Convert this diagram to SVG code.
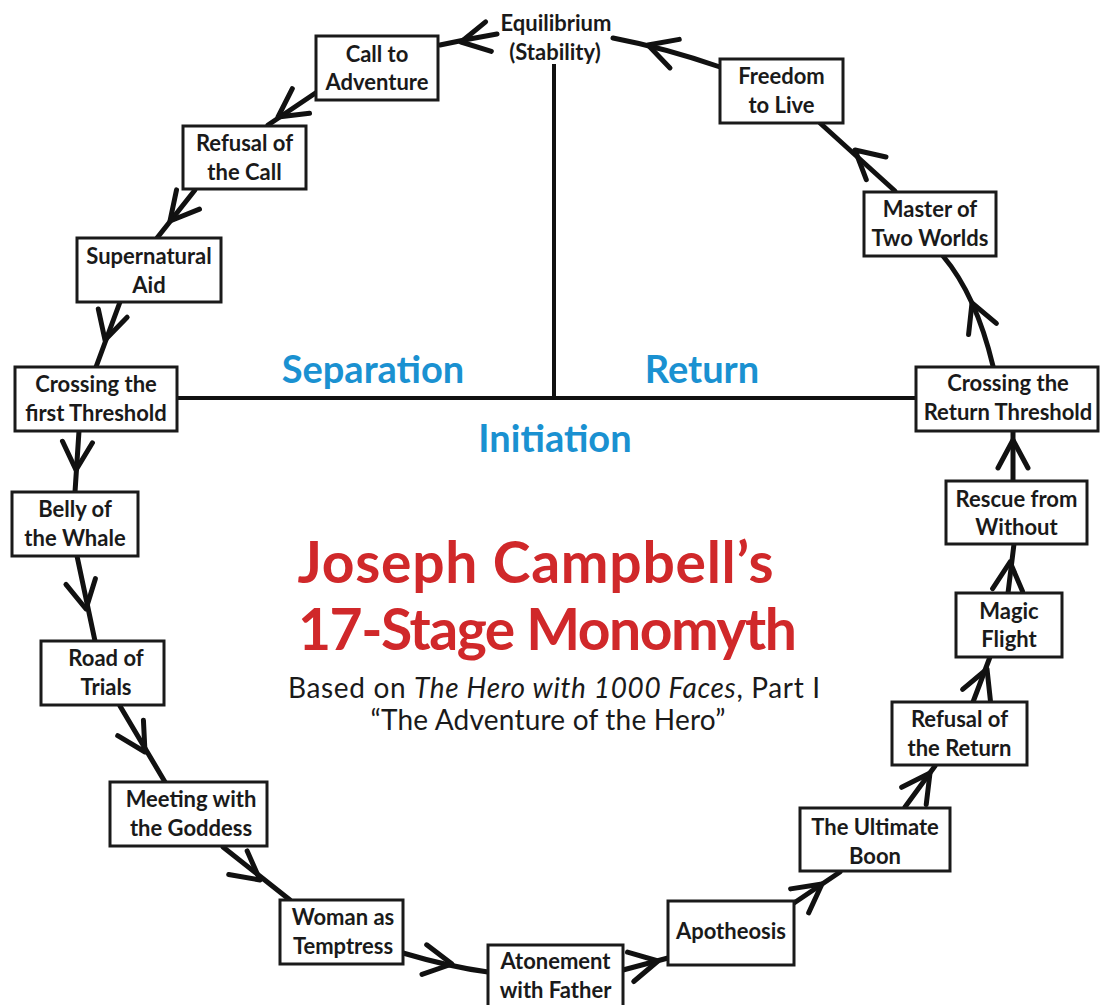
<svg xmlns="http://www.w3.org/2000/svg" xmlns:xlink="http://www.w3.org/1999/xlink" width="1100" height="1005" viewBox="0 0 1100 1005">
<style>
.box{fill:#fff;stroke:#1a1a1a;stroke-width:3}
.lbl{font-family:Lato,"Liberation Sans",sans-serif;font-weight:bold;font-size:22px;fill:#1a1a1a;text-anchor:middle}
.con{fill:none;stroke:#111;stroke-width:5;stroke-linecap:round}
.ah{fill:none;stroke:#111;stroke-width:5;stroke-linecap:round;stroke-linejoin:round}
.axis{stroke:#111;stroke-width:4;fill:none}
.phase{font-family:Lato,"Liberation Sans",sans-serif;font-weight:bold;font-size:38px;fill:#1a91d1;text-anchor:middle}
.title{font-family:Lato,"Liberation Sans",sans-serif;font-weight:bold;font-size:57px;fill:#d0282a;text-anchor:middle}
.sub{font-family:Lato,"Liberation Sans",sans-serif;font-size:28px;fill:#1a1a1a;text-anchor:middle}
</style>
<defs>
<path id="ah" d="M-28,-15 L0,0 L-28,15"/>
</defs>
<rect width="1100" height="1005" fill="#fff"/>

<g id="axes">
<line class="axis" x1="554" y1="64" x2="554" y2="398"/>
<line class="axis" x1="177" y1="398" x2="916" y2="398"/>
</g>

<g id="connectors">
<path class="con" d="M497,34 Q468,39 440,45"/>
<path class="con" d="M317,92 L268,125"/>
<path class="con" d="M195,190 L157,238"/>
<path class="con" d="M120,302 L96,367"/>
<path class="con" d="M79,431 L75,492"/>
<path class="con" d="M77,556 L95,641"/>
<path class="con" d="M120,706 L165,782"/>
<path class="con" d="M223,847 L290,900"/>
<path class="con" d="M403,953 Q450,967 488,972"/>
<path class="con" d="M623,970 L668,958"/>
<path class="con" d="M794,903 L840,872"/>
<path class="con" d="M905,807 L935,766"/>
<path class="con" d="M973,702 L990,657"/>
<path class="con" d="M1008,593 L1014,544"/>
<path class="con" d="M1013,481 L1013,431"/>
<path class="con" d="M993,366 Q976,295 943,256"/>
<path class="con" d="M895,191 L820,123"/>
<path class="con" d="M720,67 Q665,48 613,38"/>
<use href="#ah" class="ah" transform="translate(461,42) rotate(169)"/>
<use href="#ah" class="ah" transform="translate(278,117) rotate(145)"/>
<use href="#ah" class="ah" transform="translate(170,221) rotate(130)"/>
<use href="#ah" class="ah" transform="translate(105,340) rotate(106)"/>
<use href="#ah" class="ah" transform="translate(76,470) rotate(93)"/>
<use href="#ah" class="ah" transform="translate(86,609) rotate(79)"/>
<use href="#ah" class="ah" transform="translate(145,752) rotate(59)"/>
<use href="#ah" class="ah" transform="translate(260,880) rotate(38)"/>
<use href="#ah" class="ah" transform="translate(452,964) rotate(9)"/>
<use href="#ah" class="ah" transform="translate(658,961) rotate(-12)"/>
<use href="#ah" class="ah" transform="translate(822,884) rotate(-37)"/>
<use href="#ah" class="ah" transform="translate(930,773) rotate(-55)"/>
<use href="#ah" class="ah" transform="translate(987,669) rotate(-68)"/>
<use href="#ah" class="ah" transform="translate(1010,562) rotate(-85)"/>
<use href="#ah" class="ah" transform="translate(1013,440) rotate(-90)"/>
<use href="#ah" class="ah" transform="translate(972,303) rotate(-112)"/>
<use href="#ah" class="ah" transform="translate(855,150) rotate(-139)"/>
<use href="#ah" class="ah" transform="translate(648,45) rotate(-162)"/>
</g>

<g id="equilibrium">
<text class="lbl" x="556" y="31">Equilibrium</text>
<text class="lbl" x="555" y="60">(Stability)</text>
</g>

<g id="call-to-adventure">
<rect class="box" x="316" y="36" width="122" height="64"/>
<text class="lbl" x="377" y="62">Call to</text>
<text class="lbl" x="377" y="90">Adventure</text>
</g>

<g id="refusal-of-the-call">
<rect class="box" x="183" y="126" width="123" height="63"/>
<text class="lbl" x="244.5" y="151">Refusal of</text>
<text class="lbl" x="244.5" y="180">the Call</text>
</g>

<g id="supernatural-aid">
<rect class="box" x="77" y="238" width="144" height="64"/>
<text class="lbl" x="149" y="264">Supernatural</text>
<text class="lbl" x="149" y="293">Aid</text>
</g>

<g id="crossing-first-threshold">
<rect class="box" x="15" y="367" width="162" height="64"/>
<text class="lbl" x="96" y="392">Crossing the</text>
<text class="lbl" x="96" y="421">first Threshold</text>
</g>

<g id="belly-of-the-whale">
<rect class="box" x="12" y="492" width="126" height="64"/>
<text class="lbl" x="75" y="517">Belly of</text>
<text class="lbl" x="75" y="546">the Whale</text>
</g>

<g id="road-of-trials">
<rect class="box" x="41" y="641" width="123" height="64"/>
<text class="lbl" x="106" y="666">Road of</text>
<text class="lbl" x="106" y="695">Trials</text>
</g>

<g id="meeting-with-the-goddess">
<rect class="box" x="110" y="782" width="157" height="64"/>
<text class="lbl" x="191" y="807">Meeting with</text>
<text class="lbl" x="191" y="836">the Goddess</text>
</g>

<g id="woman-as-temptress">
<rect class="box" x="280" y="900" width="123" height="64"/>
<text class="lbl" x="343" y="925">Woman as</text>
<text class="lbl" x="343" y="954">Temptress</text>
</g>

<g id="atonement-with-father">
<rect class="box" x="488" y="945" width="135" height="66"/>
<text class="lbl" x="555.5" y="969">Atonement</text>
<text class="lbl" x="555.5" y="998">with Father</text>
</g>

<g id="apotheosis">
<rect class="box" x="668" y="901" width="126" height="64"/>
<text class="lbl" x="731" y="939">Apotheosis</text>
</g>

<g id="the-ultimate-boon">
<rect class="box" x="800" y="808" width="150" height="63"/>
<text class="lbl" x="875" y="835">The Ultimate</text>
<text class="lbl" x="875" y="864">Boon</text>
</g>

<g id="refusal-of-the-return">
<rect class="box" x="892" y="702" width="135" height="63"/>
<text class="lbl" x="959.5" y="727">Refusal of</text>
<text class="lbl" x="959.5" y="756">the Return</text>
</g>

<g id="magic-flight">
<rect class="box" x="956" y="593" width="106" height="64"/>
<text class="lbl" x="1009" y="619">Magic</text>
<text class="lbl" x="1009" y="647">Flight</text>
</g>

<g id="rescue-from-without">
<rect class="box" x="946" y="481" width="141" height="63"/>
<text class="lbl" x="1016.5" y="507">Rescue from</text>
<text class="lbl" x="1016.5" y="535">Without</text>
</g>

<g id="crossing-return-threshold">
<rect class="box" x="916" y="367" width="182" height="64"/>
<text class="lbl" x="1008" y="391">Crossing the</text>
<text class="lbl" x="1008" y="420">Return Threshold</text>
</g>

<g id="master-of-two-worlds">
<rect class="box" x="864" y="192" width="132" height="64"/>
<text class="lbl" x="930" y="217">Master of</text>
<text class="lbl" x="930" y="246">Two Worlds</text>
</g>

<g id="freedom-to-live">
<rect class="box" x="720" y="59" width="123" height="64"/>
<text class="lbl" x="781.5" y="84">Freedom</text>
<text class="lbl" x="781.5" y="113">to Live</text>
</g>

<g id="phases">
<text class="phase" x="373" y="383">Separation</text>
<text class="phase" x="702" y="383">Return</text>
<text class="phase" x="555" y="452">Initiation</text>
</g>

<g id="title">
<text class="title" x="535.5" y="583" textLength="476">Joseph Campbell’s</text>
<text class="title" x="547.5" y="650" textLength="499">17-Stage Monomyth</text>
<text class="sub" x="554" y="698" textLength="532">Based on <tspan font-style="italic">The Hero with 1000 Faces</tspan>, Part I</text>
<text class="sub" x="548" y="730" textLength="355">“The Adventure of the Hero”</text>
</g>
</svg>
